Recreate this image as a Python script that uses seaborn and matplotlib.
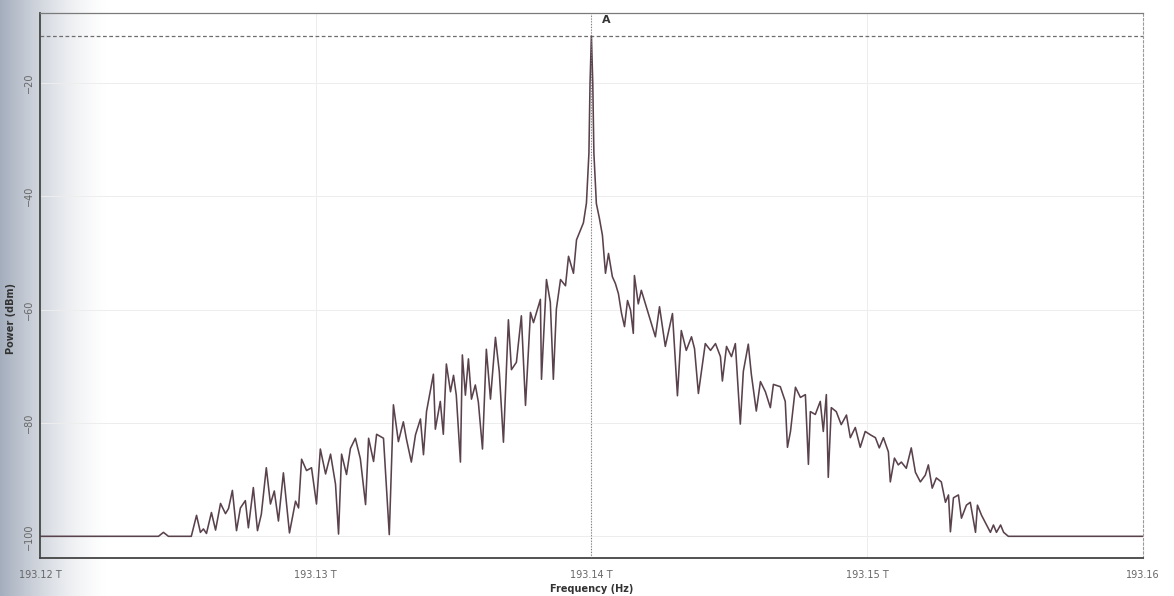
import numpy as np
import pandas as pd
import matplotlib
matplotlib.use("Agg")
import matplotlib.pyplot as plt
from matplotlib.ticker import MultipleLocator, FixedLocator, FixedFormatter
import seaborn as sns

# Optical spectrum around the 193.14 THz carrier
carrier_thz = 193.14
floor_dbm = -100.0
peak_dbm = -11.7

# Frequency offset from the carrier (GHz) and measured power (dBm)
offset_ghz = [
    -20.00, -15.70, -15.52, -15.34, -14.51, -14.32, -14.18, -14.07, -13.96, -13.78,
    -13.63, -13.45, -13.27, -13.16, -13.02, -12.87, -12.73, -12.55, -12.44, -12.26,
    -12.11, -11.97, -11.79, -11.64, -11.50, -11.35, -11.17, -10.95, -10.73, -10.62,
    -10.51, -10.33, -10.15, -9.97, -9.83, -9.64, -9.46, -9.28, -9.17, -9.06,
    -8.88, -8.74, -8.56, -8.38, -8.19, -8.08, -7.90, -7.79, -7.54, -7.33,
    -7.18, -7.00, -6.82, -6.71, -6.53, -6.38, -6.20, -6.09, -5.98, -5.73,
    -5.66, -5.48, -5.37, -5.26, -5.11, -5.00, -4.90, -4.75, -4.68, -4.57,
    -4.46, -4.35, -4.21, -4.10, -3.95, -3.81, -3.66, -3.48, -3.34, -3.19,
    -3.01, -2.90, -2.72, -2.54, -2.39, -2.21, -2.10, -1.85, -1.81, -1.63,
    -1.49, -1.38, -1.27, -1.12, -0.94, -0.83, -0.65, -0.54, -0.44, -0.29,
    -0.18, -0.09, -0.05, 0.0,
    0.05, 0.09, 0.18, 0.29, 0.40, 0.51, 0.62, 0.76, 0.87, 0.98,
    1.09, 1.20, 1.31, 1.42, 1.52, 1.56, 1.70, 1.81, 1.96, 2.14,
    2.32, 2.47, 2.68, 2.94, 3.12, 3.26, 3.44, 3.63, 3.74, 3.88,
    4.13, 4.32, 4.50, 4.68, 4.75, 4.90, 5.08, 5.22, 5.40, 5.51,
    5.69, 5.80, 5.98, 6.13, 6.31, 6.49, 6.60, 6.85, 7.03, 7.11,
    7.22, 7.40, 7.58, 7.76, 7.87, 7.94, 8.12, 8.30, 8.41, 8.52,
    8.59, 8.70, 8.88, 9.06, 9.25, 9.39, 9.57, 9.75, 9.93, 10.12,
    10.30, 10.44, 10.59, 10.77, 10.84, 10.99, 11.13, 11.24, 11.42, 11.60,
    11.75, 11.93, 12.11, 12.22, 12.36, 12.51, 12.69, 12.84, 12.95, 13.02,
    13.13, 13.31, 13.42, 13.60, 13.74, 13.93, 14.00, 14.15, 14.33, 14.47,
    14.58, 14.69, 14.84, 14.95, 15.12, 20.00,
]
power_dbm = [
    -100.0, -100.0, -99.3, -100.0, -100.0, -96.3, -99.3, -98.7, -99.5, -95.8,
    -98.9, -94.2, -96.0, -95.1, -91.9, -99.0, -95.0, -93.7, -98.5, -91.4,
    -99.0, -96.1, -87.9, -94.3, -92.0, -97.3, -88.8, -99.4, -93.8, -95.0,
    -86.4, -88.4, -87.9, -94.3, -84.6, -89.0, -85.5, -90.8, -99.6, -85.5,
    -89.1, -84.5, -82.7, -86.3, -94.4, -82.7, -86.8, -82.0, -82.7, -99.7,
    -76.8, -83.3, -79.8, -82.8, -86.9, -82.1, -79.3, -85.6, -78.0, -71.4,
    -81.1, -76.2, -82.0, -69.6, -74.5, -71.6, -75.1, -86.9, -68.0, -75.1,
    -68.7, -75.8, -73.3, -76.3, -84.6, -67.0, -75.8, -64.9, -71.0, -83.4,
    -61.8, -70.6, -69.3, -61.1, -76.9, -60.5, -62.3, -58.2, -72.3, -54.7,
    -58.7, -72.3, -59.9, -54.7, -55.8, -50.6, -53.6, -47.7, -46.5, -44.7,
    -41.2, -32.4, -20.1, -11.7,
    -20.1, -32.4, -41.3, -43.9, -46.9, -53.6, -50.1, -54.2, -55.4, -57.2,
    -60.6, -63.0, -58.4, -60.1, -64.2, -54.0, -59.0, -56.6, -59.0, -61.9,
    -64.8, -59.5, -66.5, -60.7, -75.2, -63.7, -67.2, -64.8, -66.9, -74.8,
    -66.0, -67.2, -66.0, -68.3, -72.6, -66.5, -68.3, -66.0, -80.2, -70.9,
    -66.1, -71.4, -77.9, -72.7, -74.5, -77.3, -73.2, -73.6, -76.2, -84.3,
    -81.5, -73.7, -75.5, -75.0, -87.3, -78.0, -78.5, -76.2, -81.5, -75.0,
    -89.6, -77.3, -78.0, -80.3, -78.6, -82.6, -80.8, -84.3, -81.5, -82.1,
    -82.6, -84.4, -82.6, -85.1, -90.4, -86.2, -87.4, -86.9, -88.0, -84.4,
    -88.7, -90.4, -89.2, -87.4, -91.5, -89.7, -90.4, -94.0, -92.7, -99.2,
    -93.2, -92.7, -96.8, -94.5, -94.0, -99.3, -94.5, -96.3, -98.0, -99.3,
    -98.0, -99.3, -98.0, -99.3, -100.0, -100.0,
]

x_ticks = [193.12, 193.13, 193.14, 193.15, 193.16]
x_tick_labels = ["193.12 T", "193.13 T", "193.14 T", "193.15 T", "193.16"]
y_ticks = [-20, -40, -60, -80, -100]

df = pd.DataFrame({
    "freq": carrier_thz + np.array(offset_ghz) / 1000.0,
    "power": power_dbm,
})

sns.set_style("white")
plt.rcParams["font.family"] = ["DejaVu Sans"]

fig = plt.figure(figsize=(11.74, 5.96), dpi=100)

# soft grey shading along the left edge of the page
bg = fig.add_axes([0, 0, 1, 1], zorder=-10)
xs = np.linspace(0, 1, 1174)
alpha = np.clip(1 - xs * 1174 / 110, 0, 1) ** 1.6
img = np.ones((2, 1174, 4))
img[..., 0] = 0.64
img[..., 1] = 0.68
img[..., 2] = 0.74
img[..., 3] = alpha[None, :]
bg.imshow(img, aspect="auto", extent=[0, 1, 0, 1])
bg.set_axis_off()

ax = fig.add_axes([0.034, 0.064, 0.9395, 0.914])
ax.set_facecolor("none")

sns.lineplot(data=df, x="freq", y="power", ax=ax, sort=False, estimator=None,
             color="#5a424d", linewidth=1.15)

ax.set_xlim(193.12, 193.16)
ax.set_ylim(-103.8, -7.7)

# marker lines through the carrier peak
ax.axhline(peak_dbm, color="#6e6e6e", lw=0.9, ls=(0, (3, 2)), zorder=1)
ax.axvline(carrier_thz, color="#7a7a7a", lw=0.8, ls=(0, (1, 1.5)), zorder=3)
ax.text(carrier_thz + 0.00054, -9.0, "A", fontsize=8, fontweight="bold",
        color="#333333", ha="center", va="center")

ax.xaxis.set_major_locator(FixedLocator(x_ticks))
ax.xaxis.set_major_formatter(FixedFormatter(x_tick_labels))
ax.xaxis.set_minor_locator(MultipleLocator(0.002))
ax.yaxis.set_major_locator(FixedLocator(y_ticks))
ax.yaxis.set_minor_locator(MultipleLocator(4))

ax.grid(True, which="major", color="#ededed", lw=0.7)
ax.tick_params(axis="both", which="both", direction="inout", color="#444444",
               labelsize=7, labelcolor="#666666")
ax.tick_params(axis="both", which="major", length=4, width=0.9)
ax.tick_params(axis="both", which="minor", length=3, width=0.8)
ax.tick_params(axis="x", pad=7)
ax.tick_params(axis="y", pad=2)
for lab in ax.get_yticklabels():
    lab.set_rotation(90)
    lab.set_va("center")

for side in ["left", "bottom"]:
    ax.spines[side].set_color("#444444")
    ax.spines[side].set_linewidth(1.3)
ax.spines["top"].set_color("#7a7a7a")
ax.spines["top"].set_linewidth(0.9)
ax.spines["right"].set_color("#9a9a9a")
ax.spines["right"].set_linewidth(0.8)
ax.spines["right"].set_linestyle((0, (2, 2)))

ax.set_xlabel("Frequency (Hz)", fontsize=7, fontweight="bold", color="#333333")
ax.set_ylabel("Power (dBm)", fontsize=7, fontweight="bold", color="#333333")
ax.xaxis.set_label_coords(0.5, -0.048)
ax.yaxis.set_label_coords(-0.022, 0.44)

fig.savefig("out.png", dpi=100)
